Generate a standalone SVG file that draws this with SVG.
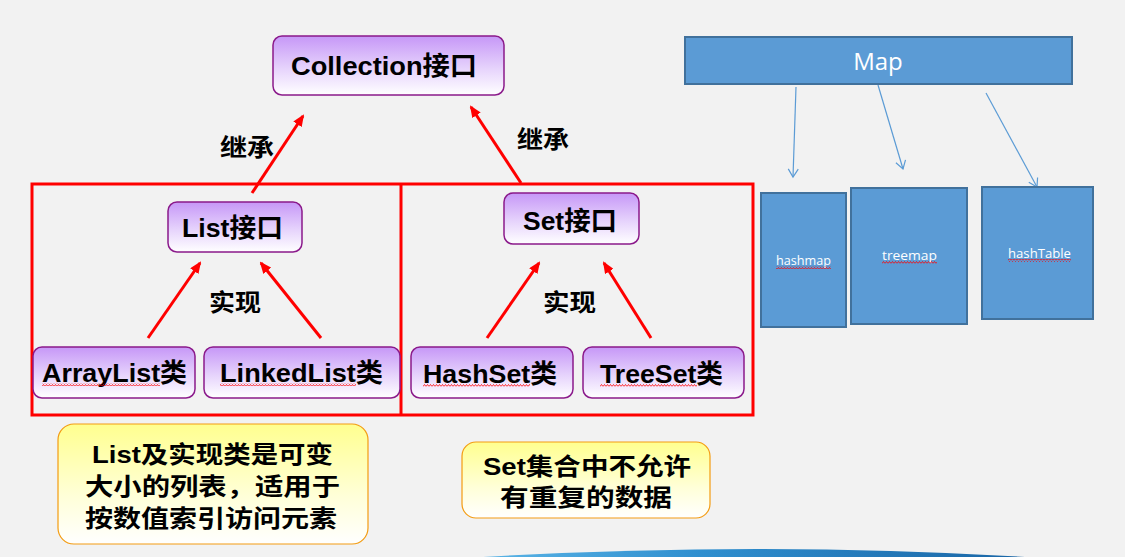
<svg xmlns="http://www.w3.org/2000/svg" width="1125" height="557" viewBox="0 0 1125 557">
<defs>
<style>
.bg{fill:#f2f2f2}
.pbox{fill:url(#purp);stroke:#8b1a8b;stroke-width:1.5}
.ybox{fill:url(#yel);stroke:#f39c12;stroke-width:1.2}
.mbox{fill:#5b9bd5;stroke:#41719c;stroke-width:2}
.t{font-family:"Liberation Sans","Noto Sans CJK SC",sans-serif;font-weight:bold;fill:#000}
.t26{font-size:26px}
.t24{font-size:24px}
.mt{font-family:"Open Sans","Noto Sans",sans-serif;fill:#fff}
.red{stroke:#ff0000;stroke-width:3;fill:none}
.rarr{stroke:#ff0000;stroke-width:3;fill:none;marker-end:url(#ra)}
.barr{stroke:#5b9bd5;stroke-width:1.2;fill:none;marker-end:url(#ba)}
.sq{fill:url(#squig)}
</style>
<linearGradient id="purp" x1="0" y1="0" x2="0" y2="1">
<stop offset="0" stop-color="#c697f7"/>
<stop offset="0.55" stop-color="#e6d3fc"/>
<stop offset="1" stop-color="#ffffff"/>
</linearGradient>
<linearGradient id="yel" x1="0" y1="0" x2="0" y2="1">
<stop offset="0" stop-color="#ffff8f"/>
<stop offset="0.6" stop-color="#ffffd8"/>
<stop offset="1" stop-color="#ffffff"/>
</linearGradient>
<linearGradient id="swoosh" x1="0" y1="0" x2="1" y2="0">
<stop offset="0" stop-color="#5ab4e6"/>
<stop offset="0.4" stop-color="#2f8fcf"/>
<stop offset="1" stop-color="#1a66a6"/>
</linearGradient>
<marker id="ra" markerUnits="userSpaceOnUse" markerWidth="12" markerHeight="10" refX="10" refY="5" orient="auto">
<path d="M0,0 L12,5 L0,10 z" fill="#ff0000"/>
</marker>
<marker id="ba" markerUnits="userSpaceOnUse" markerWidth="12" markerHeight="12" refX="9" refY="6" orient="auto">
<path d="M1,1 L9,6 L1,11" fill="none" stroke="#5b9bd5" stroke-width="1.2"/>
</marker>
<pattern id="squig" patternUnits="userSpaceOnUse" width="3" height="3">
<path d="M0,2.5 L1.5,0.5 L3,2.5" fill="none" stroke="#ff0000" stroke-width="0.8"/>
</pattern>
</defs>

<rect class="bg" x="0" y="0" width="1125" height="557"/>
<path d="M483,557 Q760,541 1025,557 Z" fill="url(#swoosh)"/>

<g id="set-frame">
<rect class="red" x="32" y="184" width="721" height="231"/>
<line class="red" x1="401" y1="184" x2="401" y2="415"/>
</g>

<g id="connectors">
<line class="rarr" x1="252" y1="193" x2="303" y2="116"/>
<line class="rarr" x1="521" y1="183" x2="471" y2="107"/>
<line class="rarr" x1="148" y1="338" x2="200" y2="263"/>
<line class="rarr" x1="321" y1="338" x2="261" y2="263"/>
<line class="rarr" x1="487" y1="338" x2="539" y2="263"/>
<line class="rarr" x1="651" y1="338" x2="604" y2="263"/>
<line class="barr" x1="796" y1="87" x2="793" y2="177"/>
<line class="barr" x1="878" y1="85" x2="903" y2="169"/>
<line class="barr" x1="986" y1="93" x2="1037" y2="187"/>
</g>

<g id="labels">
<text class="t t24" x="220" y="156" textLength="54" lengthAdjust="spacingAndGlyphs">继承</text>
<text class="t t24" x="517" y="148" textLength="52" lengthAdjust="spacingAndGlyphs">继承</text>
<text class="t t24" x="209" y="311" textLength="52" lengthAdjust="spacingAndGlyphs">实现</text>
<text class="t t24" x="543" y="311" textLength="53" lengthAdjust="spacingAndGlyphs">实现</text>
</g>

<g id="collection">
<rect class="pbox" x="273" y="36" width="231" height="59" rx="9"/>
<text class="t t26" x="291" y="75" textLength="186" lengthAdjust="spacingAndGlyphs">Collection接口</text>
</g>

<g id="list">
<rect class="pbox" x="168" y="202" width="134" height="50" rx="9"/>
<text class="t t26" x="182" y="237" textLength="101" lengthAdjust="spacingAndGlyphs">List接口</text>
</g>

<g id="set">
<rect class="pbox" x="504" y="193" width="135" height="51" rx="9"/>
<text class="t t26" x="523" y="230" textLength="94" lengthAdjust="spacingAndGlyphs">Set接口</text>
</g>

<g id="arraylist">
<rect class="pbox" x="33" y="347" width="162" height="51" rx="9"/>
<text class="t t26" x="42" y="382" textLength="145" lengthAdjust="spacingAndGlyphs">ArrayList类</text>
<rect class="sq" x="42" y="383" width="118" height="3"/>
</g>

<g id="linkedlist">
<rect class="pbox" x="204" y="347" width="196" height="51" rx="9"/>
<text class="t t26" x="220" y="382" textLength="163" lengthAdjust="spacingAndGlyphs">LinkedList类</text>
<rect class="sq" x="220" y="383" width="136" height="3"/>
</g>

<g id="hashset">
<rect class="pbox" x="411" y="347" width="162" height="51" rx="9"/>
<text class="t t26" x="423" y="383" textLength="134" lengthAdjust="spacingAndGlyphs">HashSet类</text>
<rect class="sq" x="423" y="384" width="107" height="3"/>
</g>

<g id="treeset">
<rect class="pbox" x="583" y="347" width="161" height="51" rx="9"/>
<text class="t t26" x="600" y="383" textLength="123" lengthAdjust="spacingAndGlyphs">TreeSet类</text>
<rect class="sq" x="600" y="384" width="97" height="3"/>
</g>

<g id="list-note">
<rect class="ybox" x="58" y="424" width="310" height="120" rx="16"/>
<text class="t t24" x="92" y="463" textLength="241" lengthAdjust="spacingAndGlyphs">List及实现类是可变</text>
<text class="t t24" x="85" y="495" textLength="255" lengthAdjust="spacingAndGlyphs">大小的列表，适用于</text>
<text class="t t24" x="85" y="527" textLength="252" lengthAdjust="spacingAndGlyphs">按数值索引访问元素</text>
</g>

<g id="set-note">
<rect class="ybox" x="462" y="442" width="248" height="76" rx="14"/>
<text class="t t24" x="483" y="475" textLength="208" lengthAdjust="spacingAndGlyphs">Set集合中不允许</text>
<text class="t t24" x="500" y="506" textLength="172" lengthAdjust="spacingAndGlyphs">有重复的数据</text>
</g>

<g id="map">
<rect class="mbox" x="685" y="37" width="387" height="47"/>
<text class="mt" x="878" y="70" font-size="24" text-anchor="middle">Map</text>
</g>

<g id="hashmap">
<rect class="mbox" x="761" y="193" width="85" height="134"/>
<text class="mt" x="776" y="265" font-size="12" textLength="55" lengthAdjust="spacingAndGlyphs">hashmap</text>
<rect class="sq" x="776" y="266" width="55" height="3"/>
</g>

<g id="treemap">
<rect class="mbox" x="851" y="188" width="116" height="136"/>
<text class="mt" x="882" y="260" font-size="12" textLength="55" lengthAdjust="spacingAndGlyphs">treemap</text>
<rect class="sq" x="882" y="261" width="55" height="3"/>
</g>

<g id="hashtable">
<rect class="mbox" x="982" y="187" width="111" height="132"/>
<text class="mt" x="1008" y="258" font-size="12" textLength="63" lengthAdjust="spacingAndGlyphs">hashTable</text>
<rect class="sq" x="1008" y="259" width="63" height="3"/>
</g>
</svg>
